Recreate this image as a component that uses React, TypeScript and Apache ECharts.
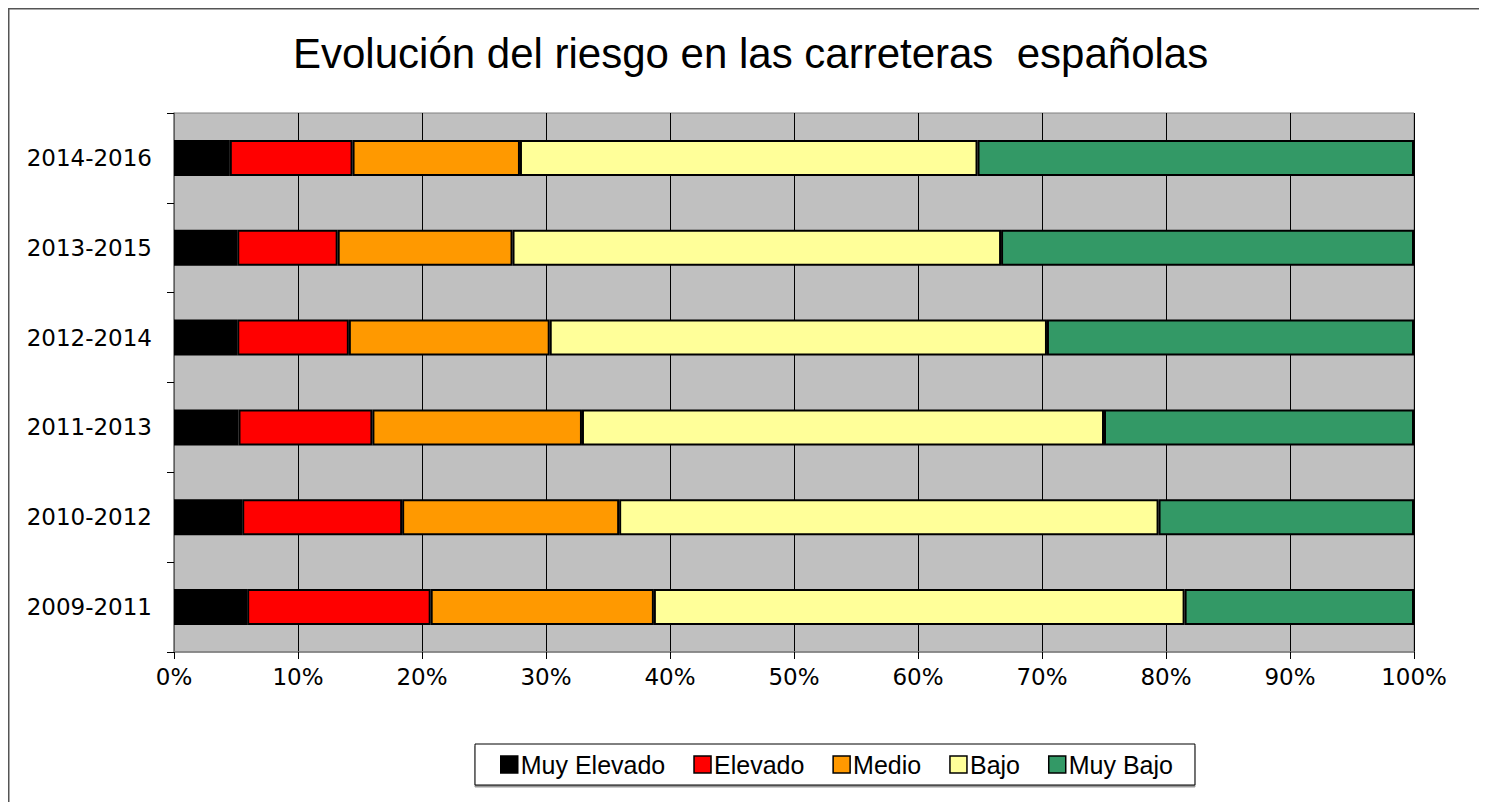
import React, { useEffect, useRef } from "react";
import * as echarts from "echarts";

const categories = ["2009-2011", "2010-2012", "2011-2013", "2012-2014", "2013-2015", "2014-2016"];
const seriesNames = ["Muy Elevado", "Elevado", "Medio", "Bajo", "Muy Bajo"];
const muyElevado = [5.9, 5.5, 5.2, 5.1, 5.1, 4.5];
const elevado = [14.8, 12.9, 10.8, 9.0, 8.1, 9.9];
const medio = [18.0, 17.5, 16.9, 16.2, 14.1, 13.5];
const bajo = [42.8, 43.5, 42.1, 40.1, 39.4, 36.9];
const muyBajo = [18.5, 20.6, 25.0, 29.6, 33.3, 35.2];
const colors = ["#000000", "#FF0000", "#FF9900", "#FFFF99", "#339966"];
const xTicks = [0, 10, 20, 30, 40, 50, 60, 70, 80, 90, 100];

export default function App() {
  const ref = useRef<HTMLDivElement>(null);
  useEffect(() => {
    if (!ref.current) return;
    document.body.style.overflow = "hidden";
    const chart = echarts.init(ref.current, null, { renderer: "svg" });
    const values = [muyElevado, elevado, medio, bajo, muyBajo];
    chart.setOption({
      animation: false,
      backgroundColor: "#ffffff",
      title: {
        text: "Evolución del riesgo en las carreteras  españolas",
        left: 280,
        top: 19,
        textStyle: {
          fontFamily: "Liberation Sans, Arial, sans-serif",
          fontSize: 42,
          fontWeight: "normal",
          color: "#000",
        },
      },
      graphic: [
        {
          type: "polyline",
          shape: { points: [[0.75, 900], [0.75, 0.75], [1600, 0.75]] },
          style: { stroke: "#555", lineWidth: 1.5, fill: null },
          silent: true,
        },
      ],
      legend: {
        data: seriesNames,
        left: 467,
        top: 736,
        padding: [8, 22, 8, 25],
        itemGap: 28,
        itemWidth: 17,
        itemHeight: 17,
        icon: "rect",
        borderColor: "#000",
        borderWidth: 1,
        backgroundColor: "#fff",
        shadowColor: "rgba(0,0,0,0.4)",
        shadowOffsetX: 0,
        shadowOffsetY: 2,
        shadowBlur: 1,
        itemStyle: { borderColor: "#000", borderWidth: 1.5 },
        textStyle: {
          fontFamily: "Liberation Sans Narrow, Arial Narrow, Liberation Sans, sans-serif",
          fontSize: 25,
          color: "#000",
          padding: [0, 0, 0, -2],
        },
      },
      grid: {
        left: 166,
        right: 73,
        top: 105,
        bottom: 150,
        show: true,
        backgroundColor: "#C0C0C0",
        borderColor: "#808080",
        borderWidth: 1,
        containLabel: false,
      },
      xAxis: {
        type: "value",
        min: 0,
        max: 100,
        interval: 10,
        axisLine: { show: true, lineStyle: { color: "#808080", width: 1.5 } },
        axisTick: { show: true, length: 7, lineStyle: { color: "#000" } },
        splitLine: { show: true, lineStyle: { color: "#000", width: 1 } },
        axisLabel: {
          margin: 13,
          formatter: (v: number) => (xTicks.includes(v) ? v + "%" : ""),
          fontFamily: "DejaVu Sans, Verdana, sans-serif",
          fontSize: 23,
          color: "#000",
        },
      },
      yAxis: {
        type: "category",
        data: categories,
        axisLine: { show: true, lineStyle: { color: "#808080", width: 1.5 } },
        axisTick: { show: true, length: 7, lineStyle: { color: "#000" } },
        splitLine: { show: false },
        axisLabel: {
          margin: 22,
          fontFamily: "DejaVu Sans, Verdana, sans-serif",
          fontSize: 23,
          color: "#000",
        },
      },
      series: seriesNames.map((name, i) => ({
        name,
        type: "bar",
        stack: "total",
        barWidth: 36,
        data: values[i],
        itemStyle: { color: colors[i], borderColor: "#000", borderWidth: 2 },
      })),
    });
    return () => chart.dispose();
  }, []);
  return <div ref={ref} style={{ width: 1479, height: 794 }} />;
}
